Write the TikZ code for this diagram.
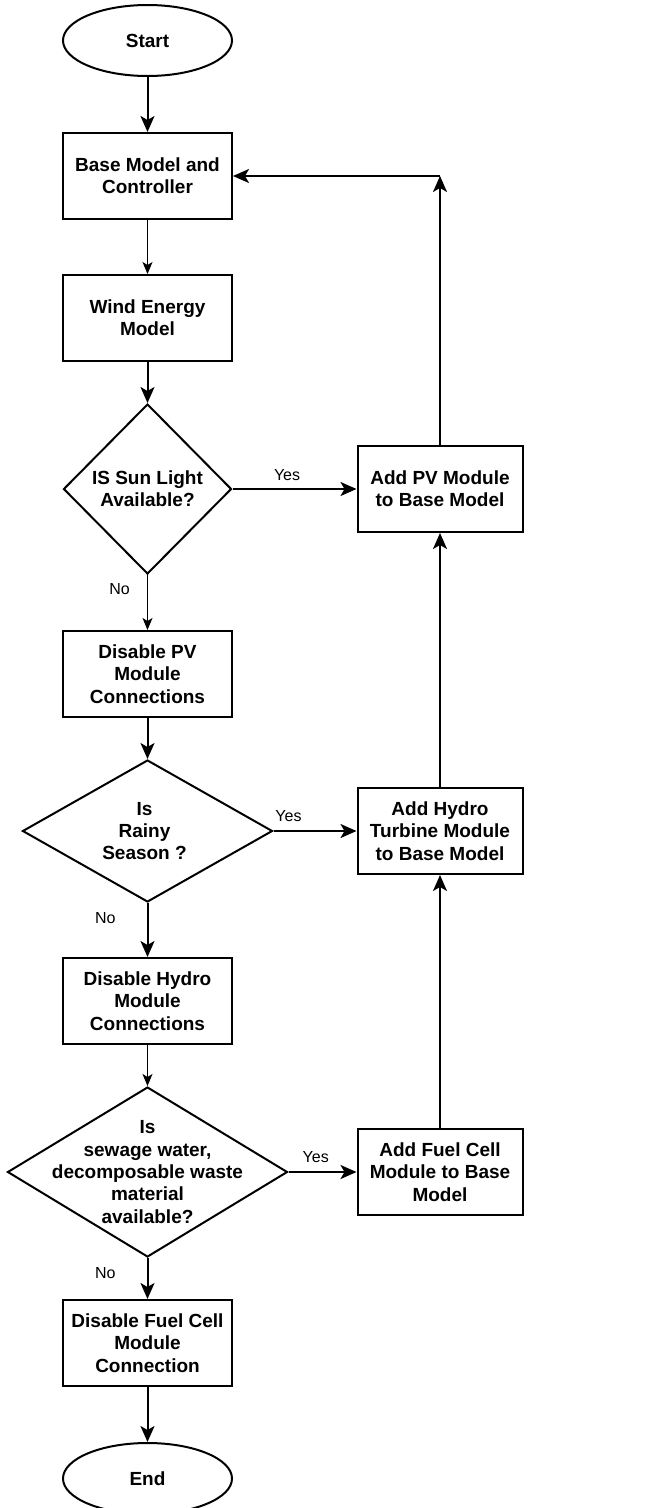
\documentclass[tikz,border=0pt]{standalone}
\usepackage{fontspec}
\setmainfont{Liberation Sans}
\usetikzlibrary{shapes.geometric,arrows.meta,positioning}

\begin{document}
\begin{tikzpicture}[x=1pt, y=-1pt,
    termbox/.style={ellipse, draw=black, line width=2pt, minimum width=169pt, minimum height=71pt, font=\fontsize{19}{22.3}\selectfont\bfseries, inner sep=0pt},
    procbox/.style={rectangle, draw=black, line width=2pt, minimum width=169pt, minimum height=86pt, align=center, font=\fontsize{19}{22.3}\selectfont\bfseries, inner sep=0pt},
    addbox/.style={procbox, minimum width=165pt},
    decision/.style={diamond, draw=black, line width=2pt, inner sep=0pt},
    dtext/.style={align=center, font=\fontsize{19}{22.3}\selectfont\bfseries, inner sep=0pt},
    lbl/.style={font=\fontsize{16}{18}\selectfont, inner sep=0pt},
    arrow/.style={-{Stealth[length=16pt,width=14pt,inset=4pt]}, line width=2pt},
    thinarrow/.style={-{Stealth[length=12pt,width=10pt,inset=3pt]}, line width=1.3pt}]

    \useasboundingbox (0,0) rectangle (654,1508);

    % Start / End
    \node[termbox] (start) at (147.5, 40.5) {Start};
    \node[termbox] (end) at (147.5, 1478.5) {End};

    % Main column
    \node[procbox] (base) at (147.5, 176) {Base Model and\\Controller};
    \node[procbox] (wind) at (147.5, 318) {Wind Energy\\Model};

    \node[decision, minimum width=168pt, minimum height=170pt] (sun) at (147.5, 489) {};
    \node[dtext] (suntxt) at (sun.center) {IS Sun Light\\Available?};

    \node[procbox] (nopv) at (147.5, 674) {Disable PV\\Module\\Connections};

    \node[decision, minimum width=250pt, minimum height=142pt] (rain) at (147.5, 831) {};
    \node[dtext] (raintxt) at ([xshift=-3pt]rain.center) {Is\\Rainy\\Season ?};

    \node[procbox] (nohydro) at (147.5, 1001) {Disable Hydro\\Module\\Connections};

    \node[decision, minimum width=280pt, minimum height=170pt] (waste) at (147.5, 1172) {};
    \node[dtext] (wastetxt) at (waste.center) {Is\\sewage water,\\decomposable waste\\material\\available?};

    \node[procbox] (nofuel) at (147.5, 1343) {Disable Fuel Cell\\Module\\Connection};

    % Right column
    \node[addbox] (pv) at (440, 489) {Add PV Module\\to Base Model};
    \node[addbox] (hydro) at (440, 831) {Add Hydro\\Turbine Module\\to Base Model};
    \node[addbox] (fuel) at (440, 1172) {Add Fuel Cell\\Module to Base\\Model};

    \coordinate (fb) at (pv.north |- base.east);

    % Arrows
    \draw[arrow] (start.south) -- (base.north);
    \draw[thinarrow] (base.south) -- (wind.north);
    \draw[arrow] (wind.south) -- (sun.north);
    \draw[thinarrow] (sun.south) -- node[lbl, pos=0.26, left=17pt] {No} (nopv.north);
    \draw[arrow] (nopv.south) -- (rain.north);
    \draw[arrow] (rain.south) -- node[lbl, pos=0.27, left=31pt] {No} (nohydro.north);
    \draw[thinarrow] (nohydro.south) -- (waste.north);
    \draw[arrow] (waste.south) -- node[lbl, pos=0.37, left=31pt] {No} (nofuel.north);
    \draw[arrow] (nofuel.south) -- (end.north);

    \draw[arrow] (sun.east) -- node[lbl, pos=0.44, above=7pt] {Yes} (pv.west);
    \draw[arrow] (rain.east) -- node[lbl, pos=0.18, above=8pt] {Yes} (hydro.west);
    \draw[arrow] (waste.east) -- node[lbl, pos=0.4, above=8pt] {Yes} (fuel.west);

    \draw[arrow] (fuel.north) -- (hydro.south);
    \draw[arrow] (hydro.north) -- (pv.south);
    \draw[arrow] (pv.north) -- (fb);
    \draw[arrow] (fb) -- (base.east);

\end{tikzpicture}
\end{document}
